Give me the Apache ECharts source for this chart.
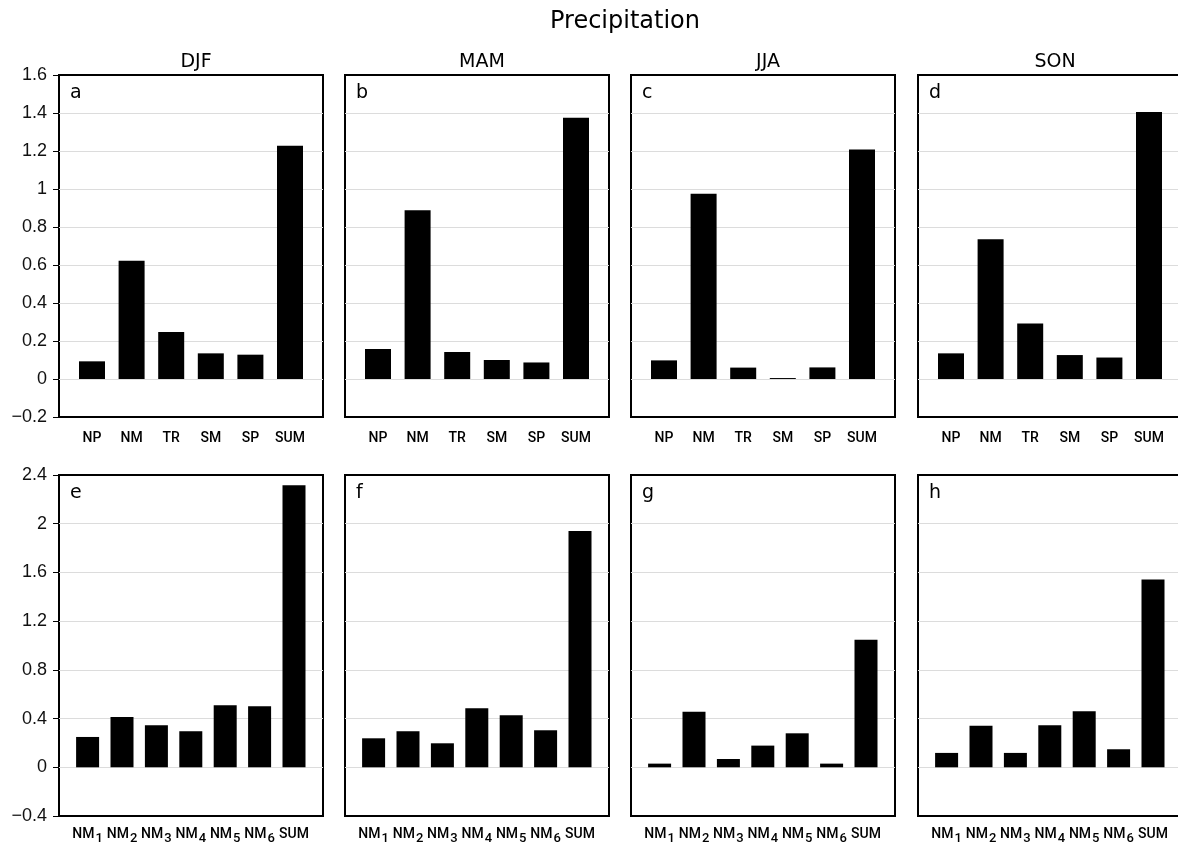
<!DOCTYPE html>
<html>
<head>
<meta charset="utf-8">
<script src="https://cdn.jsdelivr.net/npm/echarts@6/dist/echarts.min.js"></script>
<style>
  html, body { margin: 0; padding: 0; background: #fff; }
  #chart { width: 1178px; height: 846px; }
</style>
</head>
<body>
<div id="chart"></div>
<script>
// ---------------- data ----------------
const mainTitle = 'Precipitation';
const seasons = ['DJF', 'MAM', 'JJA', 'SON'];
const panelLetters = ['a', 'b', 'c', 'd', 'e', 'f', 'g', 'h'];
const categoriesTop = ['NP', 'NM', 'TR', 'SM', 'SP', 'SUM'];
const categoriesBottom = ['NM1', 'NM2', 'NM3', 'NM4', 'NM5', 'NM6', 'SUM'];

const regionDJF = [0.093, 0.623, 0.247, 0.135, 0.128, 1.228];
const regionMAM = [0.158, 0.888, 0.142, 0.100, 0.087, 1.375];
const regionJJA = [0.098, 0.975, 0.060, 0.005, 0.061, 1.208];
const regionSON = [0.135, 0.735, 0.292, 0.126, 0.113, 1.405];

const modeDJF = [0.249, 0.413, 0.345, 0.296, 0.509, 0.501, 2.316];
const modeMAM = [0.238, 0.296, 0.197, 0.485, 0.427, 0.304, 1.940];
const modeJJA = [0.030, 0.457, 0.068, 0.178, 0.279, 0.030, 1.047];
const modeSON = [0.118, 0.342, 0.118, 0.345, 0.460, 0.148, 1.542];

const yTop = { min: -0.2, max: 1.6, interval: 0.2 };
const yBottom = { min: -0.4, max: 2.4, interval: 0.4 };

const topRows = [regionDJF, regionMAM, regionJJA, regionSON];
const bottomRows = [modeDJF, modeMAM, modeJJA, modeSON];

// ---------------- layout ----------------
const frameLefts = [59, 345, 631, 918];
const frameWidth = 264;
const rowTops = [75, 475];
const rowHeights = [342, 341];
const insets = [13.2, 11.4];
const dataWidths = [237.6, 240.8];
const barWidths = [26, 23];
const labelMargins = [10, 7];

const FONT_TICK = 'Liberation Sans';
const FONT_TEXT = 'DejaVu Sans';
const FONT_CAT = 'Roboto';

const chart = echarts.init(document.getElementById('chart'), null, { renderer: 'canvas' });

const grid = [], xAxis = [], yAxis = [], series = [], title = [], graphic = [];

title.push({
  text: mainTitle, left: 620, top: 5, textAlign: 'center',
  textStyle: { fontFamily: FONT_TEXT, fontSize: 24, fontWeight: 'normal', color: '#000' }
});
seasons.forEach((s, c) => {
  title.push({
    text: s, left: frameLefts[c] + frameWidth / 2, top: 48, textAlign: 'center',
    textStyle: { fontFamily: FONT_TEXT, fontSize: 19, fontWeight: 'normal', color: '#000' }
  });
});

const minusFmt = v => String(v).replace('-', '\u2212');

// frame grids (0..7)
for (let r = 0; r < 2; r++) {
  const yc = r === 0 ? yTop : yBottom;
  for (let c = 0; c < 4; c++) {
    const idx = r * 4 + c;
    grid.push({
      left: frameLefts[c], top: rowTops[r], width: frameWidth, height: rowHeights[r],
      show: true, borderColor: '#000', borderWidth: 2, backgroundColor: 'transparent',
      containLabel: false, outerBoundsMode: 'none'
    });
    xAxis.push({ type: 'value', gridIndex: idx, min: 0, max: 1, show: false });
    yAxis.push({
      type: 'value', gridIndex: idx, min: yc.min, max: yc.max, interval: yc.interval,
      axisLine: { show: false },
      axisTick: { show: c === 0, length: 6, inside: false, lineStyle: { color: '#000', width: 1 } },
      axisLabel: {
        show: c === 0, margin: 12, formatter: minusFmt,
        fontFamily: FONT_TICK, fontSize: 18, color: '#111'
      },
      splitLine: { show: true, showMinLine: false, showMaxLine: false, lineStyle: { color: '#dcdcdc', width: 1 } }
    });
    graphic.push({
      type: 'text', left: frameLefts[c] + 11, top: rowTops[r] + 9,
      style: { text: panelLetters[idx], fontFamily: FONT_TEXT, fontSize: 19, fill: '#000' }
    });
  }
}

// data grids (8..15)
const catFormatter = v => {
  const m = /^NM(\d)$/.exec(v);
  return m ? '{m|NM}{s|' + m[1] + '}' : '{m|' + v + '}';
};
for (let r = 0; r < 2; r++) {
  const yc = r === 0 ? yTop : yBottom;
  const cats = r === 0 ? categoriesTop : categoriesBottom;
  const rows = r === 0 ? topRows : bottomRows;
  for (let c = 0; c < 4; c++) {
    const gi = 8 + r * 4 + c;
    grid.push({
      left: frameLefts[c] + insets[r], top: rowTops[r], width: dataWidths[r], height: rowHeights[r],
      show: false, containLabel: false, outerBoundsMode: 'none'
    });
    xAxis.push({
      type: 'category', gridIndex: gi, data: cats,
      axisLine: { show: false }, axisTick: { show: false },
      axisLabel: {
        interval: 0, margin: labelMargins[r], formatter: catFormatter, hideOverlap: false,
        rich: {
          m: { fontFamily: FONT_CAT, fontSize: 14, fontWeight: 500, color: '#000', lineHeight: 22, verticalAlign: 'middle' },
          s: { fontFamily: FONT_CAT, fontSize: 13, fontWeight: 500, color: '#000', lineHeight: 12, verticalAlign: 'bottom', padding: [0, 0, 0, 1] }
        }
      }
    });
    yAxis.push({ type: 'value', gridIndex: gi, min: yc.min, max: yc.max, interval: yc.interval, show: false, splitLine: { show: false } });
    series.push({
      type: 'bar', xAxisIndex: gi, yAxisIndex: gi, data: rows[c],
      barWidth: barWidths[r], itemStyle: { color: '#000' }, silent: true, animation: false
    });
  }
}

chart.setOption({
  animation: false,
  backgroundColor: '#fff',
  title, grid, xAxis, yAxis, series, graphic
});
</script>
</body>
</html>
